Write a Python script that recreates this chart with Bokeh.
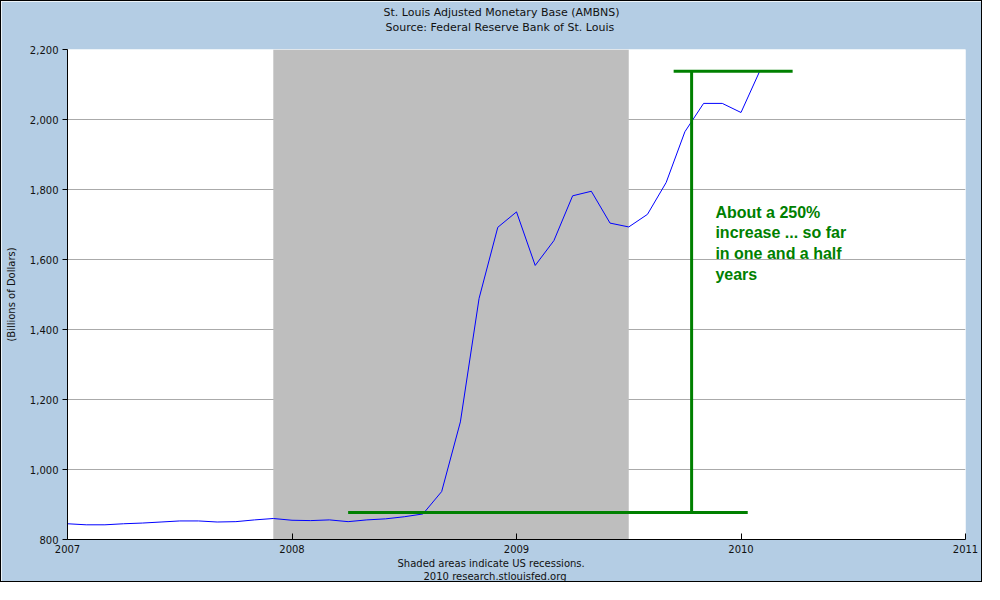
from bokeh.plotting import figure
from bokeh.models import FixedTicker, NumeralTickFormatter, Range1d, Label, Title
from bokeh.embed import file_html
from bokeh.resources import INLINE

# ---------------- data ----------------
months = ["2007-01", "2007-02", "2007-03", "2007-04", "2007-05", "2007-06",
          "2007-07", "2007-08", "2007-09", "2007-10", "2007-11", "2007-12",
          "2008-01", "2008-02", "2008-03", "2008-04", "2008-05", "2008-06",
          "2008-07", "2008-08", "2008-09", "2008-10", "2008-11", "2008-12",
          "2009-01", "2009-02", "2009-03", "2009-04", "2009-05", "2009-06",
          "2009-07", "2009-08", "2009-09", "2009-10", "2009-11", "2009-12",
          "2010-01", "2010-02"]
ambns = [845, 842, 842, 845, 847, 850, 853, 853, 850, 851, 856, 860,
         855, 854, 856, 851, 856, 859, 865, 873, 937, 1136, 1489, 1692,
         1736, 1583, 1654, 1782, 1795, 1704, 1693, 1729, 1820, 1965, 2046, 2046,
         2020, 2138]

recession_start = "2007-12"
recession_end = "2009-07"

x_ticks = [2007, 2008, 2009, 2010, 2011]
y_ticks = [800, 1000, 1200, 1400, 1600, 1800, 2000, 2200]

# hand-drawn green annotation (from, to)
ann_x0 = [2008.25, 2009.70, 2009.78]
ann_x1 = [2010.03, 2010.23, 2009.78]
ann_y0 = [877, 2138, 877]
ann_y1 = [877, 2138, 2138]
ann_text = "About a 250%\nincrease ... so far\nin one and a half\nyears"

title1 = "St. Louis Adjusted Monetary Base (AMBNS)"
title2 = "Source: Federal Reserve Bank of St. Louis"
foot1 = "Shaded areas indicate US recessions."
foot2 = "2010 research.stlouisfed.org"
y_label = "(Billions of Dollars)"


def to_year(s):
    y, m = s.split("-")
    return int(y) + (int(m) - 1) / 12.0


xs = [to_year(m) for m in months]

BG = "#B4CDE4"
FONT = "DejaVu Sans"
TXT = "#111111"

p = figure(width=982, height=582, output_backend="svg", toolbar_location=None,
           x_range=Range1d(x_ticks[0], x_ticks[-1]),
           y_range=Range1d(y_ticks[0], y_ticks[-1]),
           min_border_left=66, min_border_right=18,
           min_border_top=48, min_border_bottom=44,
           background_fill_color="white", border_fill_color=BG,
           outline_line_color=None)

# recession shading
p.quad(left=[to_year(recession_start)], right=[to_year(recession_end)],
       bottom=[y_ticks[0]], top=[y_ticks[-1]],
       fill_color="#BEBEBE", line_color=None)

# series
p.line(xs, ambns, line_color="#0000FF", line_width=1)

# annotation lines
p.segment(x0=ann_x0, y0=ann_y0, x1=ann_x1, y1=ann_y1,
          line_color="#008000", line_width=3)

p.add_layout(Label(x=2009.886, y=1760, text=ann_text,
                   text_font="Liberation Sans", text_font_style="bold",
                   text_font_size="16px", text_color="#008000",
                   text_baseline="top", text_align="left",
                   text_line_height=1.23))

# axes
p.xaxis.ticker = FixedTicker(ticks=x_ticks)
p.xaxis.major_tick_in = 6
p.xaxis.major_tick_out = 0
p.xaxis.minor_tick_line_color = None
p.xaxis.major_label_standoff = 5

p.yaxis.ticker = FixedTicker(ticks=y_ticks)
p.yaxis.formatter = NumeralTickFormatter(format="0,0")
p.yaxis.major_tick_in = 0
p.yaxis.major_tick_out = 5
p.yaxis.minor_tick_line_color = None
p.yaxis.major_label_standoff = 4
p.yaxis.axis_label = y_label
p.yaxis.axis_label_standoff = 10
p.yaxis.axis_label_text_font_style = "normal"
p.yaxis.axis_label_text_font = FONT
p.yaxis.axis_label_text_font_size = "10px"
p.yaxis.axis_label_text_color = TXT

for ax in (p.xaxis, p.yaxis):
    ax.axis_line_color = "black"
    ax.major_tick_line_color = "black"
    ax.major_label_text_font = FONT
    ax.major_label_text_font_size = "10px"
    ax.major_label_text_color = TXT

p.xgrid.visible = False
p.ygrid.grid_line_color = "#AAAAAA"

# titles, stacked outward from the frame: spacer, subtitle, title
p.add_layout(Title(text=" ", standoff=1, text_font=FONT,
                   text_font_size="11px"), "above")
p.add_layout(Title(text=title2, align="left", offset=318, standoff=0,
                   text_font=FONT, text_font_size="11px", text_font_style="normal",
                   text_color=TXT), "above")
p.add_layout(Title(text=title1, align="left", offset=316, standoff=0,
                   text_font=FONT, text_font_size="11px", text_font_style="normal",
                   text_color=TXT), "above")
# footer
p.add_layout(Title(text=foot1, align="left", offset=330, standoff=0,
                   text_font=FONT, text_font_size="10px", text_font_style="normal",
                   text_color=TXT), "below")
p.add_layout(Title(text=foot2, align="left", offset=356, standoff=0,
                   text_font=FONT, text_font_size="10px", text_font_style="normal",
                   text_color=TXT), "below")

p.styles = {"border": "1px solid black"}

open("out.html", "w").write(file_html(p, INLINE))
